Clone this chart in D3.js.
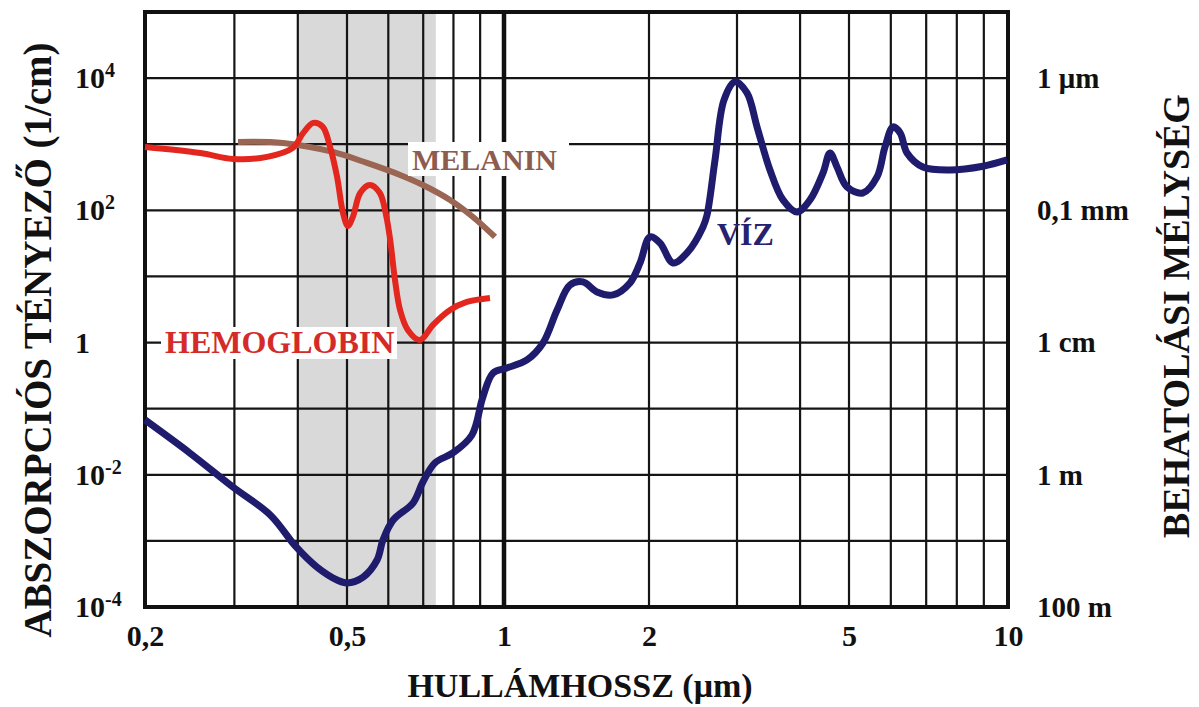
<!DOCTYPE html>
<html>
<head>
<meta charset="utf-8">
<script src="https://cdn.jsdelivr.net/npm/d3@7"></script>
<style>
  html, body { margin: 0; padding: 0; background: #fff; }
  svg { display: block; }
  text { font-family: "Liberation Serif", "Times New Roman", "DejaVu Serif", serif; font-weight: bold; }
</style>
</head>
<body>
<svg id="chart" width="1199" height="707"></svg>
<script>
// ---------------- DATA ----------------
const xTickValues = [0.2, 0.5, 1, 2, 5, 10];
const xTickLabels = ["0,2", "0,5", "1", "2", "5", "10"];
const xGridValues = [0.3, 0.4, 0.5, 0.6, 0.7, 0.8, 0.9, 2, 3, 4, 5, 6, 7, 8, 9];
const yTickValues = [1e4, 1e2, 1, 1e-2, 1e-4];
const yTickBase = ["10", "10", "1", "10", "10"];
const yTickExp = ["4", "2", "", "-2", "-4"];
const yGridValues = [1e-3, 1e-2, 1e-1, 1, 1e1, 1e2, 1e3, 1e4];
const depthLabels = ["1 \u03bcm", "0,1 mm", "1 cm", "1 m", "100 m"];
const visibleBand = [0.4, 0.74];
const seriesNames = ["V\u00cdZ", "HEMOGLOBIN", "MELANIN"];

const waterWavelength = [0.2, 0.245, 0.298, 0.353, 0.397, 0.436, 0.478, 0.5, 0.537, 0.571, 0.586, 0.613, 0.669, 0.699, 0.737, 0.798, 0.868, 0.911, 0.953,
  1.014, 1.116, 1.205, 1.289, 1.371, 1.459, 1.56, 1.684, 1.826, 1.916, 2.009, 2.104, 2.234, 2.383, 2.565, 2.613, 2.711, 2.826, 2.973,
  3.14, 3.287, 3.487, 3.7, 3.944, 4.185, 4.441, 4.585, 4.734, 4.954, 5.31, 5.65, 5.85, 6.06, 6.25, 6.44, 6.9, 7.77, 8.97, 9.96];
const waterAbsorption = [0.0675, 0.0214, 0.00653, 0.00247, 0.00081, 0.000403, 0.000256, 0.000231, 0.000284, 0.000514, 0.00103, 0.00207, 0.00374, 0.00778, 0.0151, 0.0214, 0.04, 0.15, 0.347,
  0.413, 0.546, 0.986, 3.11, 7.43, 8.26, 5.82, 5.25, 7.98, 16.0, 39.6, 32.1, 16.0, 22.7, 56.1, 85, 578, 4677, 8800,
  5970, 1828, 408, 143.6, 94.6, 143.6, 368, 738, 453, 226, 183, 320, 910, 1828, 1483, 738, 453, 408, 465, 578];

const hemoWavelength = [0.2, 0.257, 0.298, 0.348, 0.391, 0.41, 0.429, 0.448, 0.463, 0.478, 0.491, 0.502, 0.513, 0.53, 0.553, 0.578,
  0.594, 0.605, 0.618, 0.632, 0.654, 0.69, 0.731, 0.788, 0.849, 0.94];
const hemoAbsorption = [910, 738, 600, 643, 879, 1483, 2100, 1828, 910, 320, 91.4, 58, 79.4, 183, 242, 183,
  85.2, 35.6, 8.85, 3.11, 1.55, 1.09, 1.85, 3.11, 4.11, 4.73];

const melaninWavelength = [0.305, 0.374, 0.469, 0.546, 0.632, 0.699, 0.788, 0.872, 0.961];
const melaninAbsorption = [1084, 1047, 765, 521, 343, 242, 143.6, 79.4, 39.6];

// ---------------- CHART ----------------
const svg = d3.select("#chart");
const L = 145, R = 1008, T = 12, B = 607;

const x = d3.scaleLog()
  .domain([0.2, 0.5, 1, 2, 3, 5, 10])
  .range([L, 347, 504, 649, 737, 849, R]);
const y = d3.scaleLog().domain([1e-4, 1e5]).range([B, T]);

svg.append("rect").attr("width", 1199).attr("height", 707).attr("fill", "#fff");

// visible band
svg.append("rect")
  .attr("x", x(visibleBand[0])).attr("y", T)
  .attr("width", x(visibleBand[1]) - x(visibleBand[0]))
  .attr("height", B - T)
  .attr("fill", "#d9d9d9");

// grid
const grid = svg.append("g").attr("stroke", "#151515").attr("stroke-width", 2.2);
grid.selectAll("line.v").data(xGridValues).join("line")
  .attr("class", "v")
  .attr("x1", d => x(d)).attr("x2", d => x(d))
  .attr("y1", T).attr("y2", B);
grid.selectAll("line.h").data(yGridValues).join("line")
  .attr("class", "h")
  .attr("x1", L).attr("x2", R)
  .attr("y1", d => y(d)).attr("y2", d => y(d));
// thick line at 1 µm
svg.append("line")
  .attr("x1", x(1)).attr("x2", x(1)).attr("y1", T).attr("y2", B)
  .attr("stroke", "#111").attr("stroke-width", 4.5);

// frame
svg.append("rect")
  .attr("x", L).attr("y", T).attr("width", R - L).attr("height", B - T)
  .attr("fill", "none").attr("stroke", "#111").attr("stroke-width", 4);

// curves
const line = d3.line()
  .x(d => x(d[0])).y(d => y(d[1]))
  .curve(d3.curveCatmullRom.alpha(0.5));

function drawSeries(xs, ys, color, width) {
  svg.append("path")
    .datum(xs.map((v, i) => [v, ys[i]]))
    .attr("d", line)
    .attr("fill", "none")
    .attr("stroke", color)
    .attr("stroke-width", width)
    .attr("stroke-linejoin", "round");
}
drawSeries(melaninWavelength, melaninAbsorption, "#9a6552", 6);
drawSeries(hemoWavelength, hemoAbsorption, "#e3271f", 6);
drawSeries(waterWavelength, waterAbsorption, "#1f1b6d", 7);

// series labels
function label(txt, tx, ty, size, color, box) {
  if (box) {
    svg.append("rect").attr("x", box[0]).attr("y", box[1])
      .attr("width", box[2]).attr("height", box[3]).attr("fill", "#fff");
  }
  svg.append("text").attr("x", tx).attr("y", ty)
    .attr("font-size", size).attr("fill", color).text(txt);
}
label(seriesNames[1], 165, 353, 32, "#d42b29", [161, 327, 236, 32]);
label(seriesNames[2], 412, 170, 30, "#8e5c4d", [408, 142, 161, 34]);
label(seriesNames[0], 717, 245, 32, "#27226f", null);

// x axis labels
const xAxis = d3.axisBottom(x)
  .tickValues(xTickValues)
  .tickFormat((d, i) => xTickLabels[i])
  .tickSize(0);
const gx = svg.append("g").attr("transform", `translate(0,${B})`).call(xAxis);
gx.select(".domain").remove();
gx.selectAll("text")
  .attr("y", 39).attr("dy", 0)
  .attr("font-size", 30).attr("fill", "#111")
  .style("font-family", '"Liberation Serif", "Times New Roman", serif')
  .style("font-weight", "bold");

// left y labels (absorption coefficient)
const yAxisL = d3.axisRight(y).tickValues(yTickValues).tickSize(0).tickPadding(0).tickFormat("");
const gyl = svg.append("g").attr("transform", "translate(75,0)").call(yAxisL);
gyl.select(".domain").remove();
gyl.selectAll(".tick text").each(function(d, i) {
  const t = d3.select(this);
  t.text(null).attr("dy", "0.32em").attr("font-size", 30).attr("fill", "#111")
    .style("font-family", '"Liberation Serif", "Times New Roman", serif')
    .style("font-weight", "bold");
  t.append("tspan").text(yTickBase[i]);
  if (yTickExp[i]) {
    t.append("tspan").attr("dy", -11).attr("font-size", 20).text(yTickExp[i]);
  }
});

// right y labels (penetration depth)
const yAxisR = d3.axisRight(y).tickValues(yTickValues).tickSize(0).tickPadding(0)
  .tickFormat((d, i) => depthLabels[i]);
const gyr = svg.append("g").attr("transform", "translate(1037,0)").call(yAxisR);
gyr.select(".domain").remove();
gyr.selectAll(".tick text")
  .attr("dy", "0.32em").attr("font-size", 29).attr("fill", "#111")
  .style("font-family", '"Liberation Serif", "Times New Roman", serif')
  .style("font-weight", "bold");

// axis titles
svg.append("text")
  .attr("transform", "translate(51,340) rotate(-90)")
  .attr("text-anchor", "middle").attr("font-size", 39).attr("fill", "#111")
  .text("ABSZORPCI\u00d3S T\u00c9NYEZ\u0150 (1/cm)");
svg.append("text")
  .attr("transform", "translate(1189,316) rotate(-90)")
  .attr("text-anchor", "middle").attr("font-size", 38).attr("fill", "#111")
  .text("BEHATOL\u00c1SI M\u00c9LYS\u00c9G");
svg.append("text")
  .attr("x", 580).attr("y", 697)
  .attr("text-anchor", "middle").attr("font-size", 34).attr("fill", "#111")
  .text("HULL\u00c1MHOSSZ (\u03bcm)");
</script>
</body>
</html>
